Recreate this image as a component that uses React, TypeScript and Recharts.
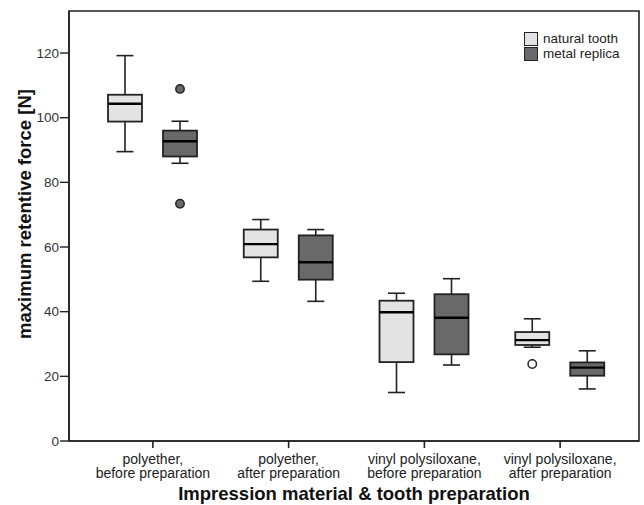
import React from 'react';
import { ComposedChart, Bar, XAxis, YAxis, ReferenceArea, Legend } from 'recharts';

const categories = [
  'polyether, before preparation',
  'polyether, after preparation',
  'vinyl polysiloxane, before preparation',
  'vinyl polysiloxane, after preparation',
];
const seriesNames = ['natural tooth', 'metal replica'];

const naturalMin = [89.5, 49.4, 15.0, 29.0];
const naturalQ1 = [98.8, 56.8, 24.4, 29.7];
const naturalMedian = [104.3, 60.9, 39.8, 31.2];
const naturalQ3 = [107.1, 65.4, 43.4, 33.7];
const naturalMax = [119.2, 68.5, 45.7, 37.8];
const naturalOutliers: number[][] = [[], [], [], [23.8]];

const metalMin = [85.9, 43.2, 23.5, 16.1];
const metalQ1 = [88.0, 49.9, 26.8, 20.2];
const metalMedian = [92.7, 55.3, 38.1, 22.7];
const metalQ3 = [96.0, 63.6, 45.4, 24.3];
const metalMax = [98.9, 65.4, 50.2, 27.9];
const metalOutliers: number[][] = [[108.9, 73.4], [], [], []];

const yTicks = [0, 20, 40, 60, 80, 100, 120];
const yTitle = 'maximum retentive force [N]';
const xTitle = 'Impression material & tooth preparation';

const FONT = '"Liberation Sans", Arial, Helvetica, sans-serif';
const STROKE = '#222';
const NAT_FILL = '#e3e3e3';
const MET_FILL = '#696969';

const data = categories.map((c, i) => ({
  category: c,
  natural: [naturalQ1[i], naturalQ3[i]],
  metal: [metalQ1[i], metalQ3[i]],
  natStats: { min: naturalMin[i], q1: naturalQ1[i], med: naturalMedian[i], q3: naturalQ3[i], max: naturalMax[i], out: naturalOutliers[i] },
  metStats: { min: metalMin[i], q1: metalQ1[i], med: metalMedian[i], q3: metalQ3[i], max: metalMax[i], out: metalOutliers[i] },
}));

const makeBoxShape = (key: 'natStats' | 'metStats', fill: string, outlierFill: string) => (props: any) => {
  const { x, y, width, height, payload } = props;
  const s = payload[key];
  const top = Math.min(y, y + height);
  const h = Math.abs(height);
  const k = h / (s.q3 - s.q1);
  const py = (v: number) => top + (s.q3 - v) * k;
  const cx = x + width / 2;
  const capHalf = width / 4;
  return (
    <g>
      <line x1={cx} x2={cx} y1={py(s.max)} y2={top} stroke={STROKE} strokeWidth={1.6} />
      <line x1={cx - capHalf} x2={cx + capHalf} y1={py(s.max)} y2={py(s.max)} stroke={STROKE} strokeWidth={1.6} />
      <line x1={cx} x2={cx} y1={top + h} y2={py(s.min)} stroke={STROKE} strokeWidth={1.6} />
      <line x1={cx - capHalf} x2={cx + capHalf} y1={py(s.min)} y2={py(s.min)} stroke={STROKE} strokeWidth={1.6} />
      <rect x={x} y={top} width={width} height={h} fill={fill} stroke={STROKE} strokeWidth={1.8} />
      <line x1={x} x2={x + width} y1={py(s.med)} y2={py(s.med)} stroke="#000" strokeWidth={2.4} />
      {s.out.map((v: number, j: number) => (
        <circle key={j} cx={cx} cy={py(v)} r={4.2} fill={outlierFill} stroke={STROKE} strokeWidth={1.5} />
      ))}
    </g>
  );
};

const CategoryTick = (props: any) => {
  const { x, y, payload } = props;
  const v: string = payload.value;
  const idx = v.indexOf(', ');
  const l1 = v.slice(0, idx + 1);
  const l2 = v.slice(idx + 2);
  return (
    <text textAnchor="middle" fontSize={14} fill="#222" fontFamily={FONT}>
      <tspan x={x} y={y + 14}>{l1}</tspan>
      <tspan x={x} y={y + 27.5}>{l2}</tspan>
    </text>
  );
};

const LegendContent = (props: any) => {
  const payload = [...(props.payload || [])].sort(
    (a: any, b: any) => seriesNames.indexOf(a.value) - seriesNames.indexOf(b.value)
  );
  return (
    <div style={{ fontFamily: FONT, fontSize: 13.5, color: '#222' }}>
      {payload.map((p: any, i: number) => (
        <div key={i} style={{ display: 'flex', alignItems: 'center', height: 15.6 }}>
          <div style={{ width: 14, height: 14, boxSizing: 'border-box', border: `1.5px solid ${STROKE}`, background: p.color, marginRight: 5 }} />
          <span style={{ lineHeight: '14px' }}>{p.value}</span>
        </div>
      ))}
    </div>
  );
};

export default function App() {
  return (
    <div style={{ position: 'absolute', left: 0, top: 0, width: 644, height: 505, background: '#fff' }}>
      <ComposedChart width={644} height={505} data={data} barGap={21} margin={{ top: 11, right: 5, bottom: 0, left: 0 }}>
        <XAxis
          dataKey="category"
          type="category"
          height={64}
          padding={{ left: 16, right: 11 }}
          tickSize={7}
          tickMargin={2}
          tickLine={{ stroke: STROKE, strokeWidth: 1.6 }}
          axisLine={{ stroke: STROKE, strokeWidth: 1.6 }}
          tick={<CategoryTick />}
          interval={0}
          label={{ value: xTitle, position: 'insideBottom', offset: 5, style: { fontFamily: FONT, fontSize: 18.5, fontWeight: 'bold', fill: '#111' } }}
        />
        <XAxis xAxisId="frame" dataKey="category" type="category" hide />
        <YAxis
          domain={[0, 133]}
          ticks={yTicks}
          width={69}
          tickSize={9}
          tickMargin={1}
          allowDataOverflow
          tickLine={{ stroke: STROKE, strokeWidth: 1.4 }}
          axisLine={{ stroke: STROKE, strokeWidth: 1.6 }}
          tick={{ fontFamily: FONT, fontSize: 13.5, fill: '#333' }}
          label={{
            value: yTitle,
            content: () => (
              <text x={31} y={214} transform="rotate(-90 31 214)" textAnchor="middle" fontFamily={FONT} fontSize={18.5} fontWeight="bold" fill="#111">
                {yTitle}
              </text>
            ),
          }}
        />
        <ReferenceArea xAxisId="frame" y1={0} y2={133} fill="none" stroke={STROKE} strokeWidth={1.6} ifOverflow="visible" />
        <Legend
          layout="horizontal"
          verticalAlign="middle"
          align="center"
          wrapperStyle={{ left: 524, top: 31, width: 120, height: 32 }}
          content={<LegendContent />}
        />
        <Bar dataKey="natural" name={seriesNames[0]} fill={NAT_FILL} barSize={34} isAnimationActive={false} shape={makeBoxShape('natStats', NAT_FILL, '#ffffff')} />
        <Bar dataKey="metal" name={seriesNames[1]} fill={MET_FILL} barSize={34} isAnimationActive={false} shape={makeBoxShape('metStats', MET_FILL, MET_FILL)} />
      </ComposedChart>
    </div>
  );
}
